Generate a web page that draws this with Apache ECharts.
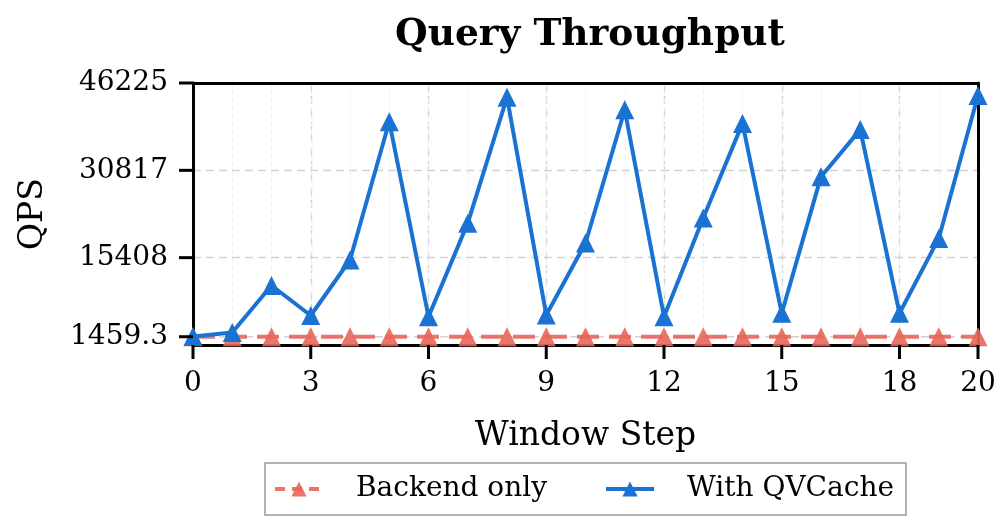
<!DOCTYPE html>
<html>
<head>
<meta charset="utf-8">
<script src="https://cdn.jsdelivr.net/npm/echarts@6/dist/echarts.min.js"></script>
<style>
  html, body { margin: 0; padding: 0; background: #fff; }
  #chart { width: 995px; height: 532px; }
</style>
</head>
<body>
<div id="chart"></div>
<script>
// window steps 0..20
var steps = ['0', '1', '2', '3', '4', '5', '6', '7', '8', '9', '10', '11', '12', '13', '14', '15', '16', '17', '18', '19', '20'];
var backendOnly = [1459.3, 1459.3, 1459.3, 1459.3, 1459.3, 1459.3, 1459.3, 1459.3, 1459.3, 1459.3, 1459.3,
                   1459.3, 1459.3, 1459.3, 1459.3, 1459.3, 1459.3, 1459.3, 1459.3, 1459.3, 1459.3];
var withCache = [1500, 2200, 10500, 5200, 15000, 39400, 5000, 21500, 43700, 5300, 18000,
                 41500, 5000, 22400, 39100, 5600, 29700, 38000, 5600, 18800, 44024];
var xTickSteps = [0, 3, 6, 9, 12, 15, 18, 20];
var yTicks = [1459.3, 15408.3, 30816.7, 46225];

var serif = 'DejaVu Serif';
var red = '#e8665a', blue = '#1a73d2';
var chart = echarts.init(document.getElementById('chart'), null, { renderer: 'canvas' });

function majorX(idx) { return xTickSteps.indexOf(idx) >= 0; }

var gridDash = { color: '#d2d2d2', type: [8, 5], width: 1.4 };
var hidden = { axisLine: { show: false }, axisTick: { show: false }, axisLabel: { show: false } };

chart.setOption({
  animation: false,
  title: {
    text: 'Query Throughput',
    left: 585, top: 11, textAlign: 'center',
    textStyle: { fontFamily: serif, fontWeight: 'bold', fontSize: 37.5, color: '#000' }
  },
  grid: { left: 193, right: 17, top: 83, bottom: 187, outerBoundsMode: 'none' },
  legend: {
    left: 265, top: 463,
    padding: [12, 12, 12, 8],
    borderColor: '#999', borderWidth: 1.5, borderRadius: 0,
    itemWidth: 48, itemHeight: 19, itemGap: 57,
    lineStyle: { width: 4 },
    textStyle: { fontFamily: serif, fontSize: 28, color: '#000', padding: [0, 0, 0, 28] },
    data: [
      { name: 'Backend only', lineStyle: { width: 4, type: [10, 7] } },
      { name: 'With QVCache', lineStyle: { width: 4 } }
    ]
  },
  xAxis: [{
    // main axis: labels, bottom spine (ticks drawn below from the axis scale)
    type: 'category', data: steps, boundaryGap: false, position: 'bottom',
    name: 'Window Step', nameLocation: 'middle', nameGap: 75,
    nameTextStyle: { fontFamily: serif, fontSize: 33, color: '#000' },
    axisLine: { show: true, onZero: false, lineStyle: { color: '#000', width: 3 } },
    axisTick: { show: false },
    axisLabel: { interval: majorX, fontFamily: serif, fontSize: 28, color: '#000', margin: 25 },
    splitLine: { show: false }
  }, Object.assign({
    // major vertical grid
    type: 'category', data: steps, boundaryGap: false, position: 'bottom',
    splitLine: { show: true, interval: majorX, lineStyle: gridDash }
  }, hidden), Object.assign({
    // minor vertical grid at every step
    type: 'category', data: steps, boundaryGap: false, position: 'bottom',
    splitLine: { show: true, interval: 0, lineStyle: { color: '#ededed', type: [4, 4], width: 1 } }
  }, hidden), {
    // top spine
    type: 'category', data: steps, boundaryGap: false, position: 'top',
    axisLine: { show: true, onZero: false, lineStyle: { color: '#000', width: 3 } },
    axisTick: { show: false }, axisLabel: { show: false }, splitLine: { show: false }
  }],
  yAxis: [{
    type: 'value', min: 0, max: 46225,
    name: 'QPS', nameLocation: 'middle', nameGap: 143, nameRotate: 90,
    nameTextStyle: { fontFamily: serif, fontSize: 33, color: '#000' },
    axisLine: { show: true, onZero: false, lineStyle: { color: '#000', width: 3 } },
    axisTick: { show: false },
    axisLabel: {
      customValues: yTicks, fontFamily: serif, fontSize: 28, color: '#000', margin: 25,
      formatter: function (v) { return v < 2000 ? v.toFixed(1) : String(Math.round(v)); }
    },
    splitLine: { show: false }
  }, Object.assign({
    // horizontal grid
    type: 'value', min: 0, max: 46225, interval: 46225 / 3, position: 'left',
    splitLine: { show: true, lineStyle: gridDash }
  }, hidden), {
    // right spine
    type: 'value', min: 0, max: 46225, position: 'right',
    axisLine: { show: true, onZero: false, lineStyle: { color: '#000', width: 3 } },
    axisTick: { show: false }, axisLabel: { show: false }, splitLine: { show: false }
  }],
  series: [{
    name: 'Backend only', type: 'line',
    data: backendOnly,
    symbol: 'triangle', symbolSize: 19,
    itemStyle: { color: red, opacity: 0.9 },
    lineStyle: { color: red, width: 3.8, type: [22, 10], opacity: 0.9 },
    clip: false
  }, {
    name: 'With QVCache', type: 'line',
    data: withCache,
    symbol: 'triangle', symbolSize: 19,
    itemStyle: { color: blue },
    lineStyle: { color: blue, width: 4 },
    clip: false
  }]
});

// outward tick marks + the grid line at the lowest tick, placed through the axis scales
var x0 = chart.convertToPixel({ xAxisIndex: 0 }, 0);
var x1 = chart.convertToPixel({ xAxisIndex: 0 }, steps.length - 1);
var yBase = chart.convertToPixel({ yAxisIndex: 0 }, 0);
var tickLen = 14;
var marks = [];
xTickSteps.forEach(function (s) {
  var px = chart.convertToPixel({ xAxisIndex: 0 }, s);
  marks.push({ type: 'line', silent: true, z: 10,
    shape: { x1: px, y1: yBase, x2: px, y2: yBase + tickLen },
    style: { stroke: '#000', lineWidth: 3 } });
});
yTicks.forEach(function (v) {
  var py = chart.convertToPixel({ yAxisIndex: 0 }, v);
  marks.push({ type: 'line', silent: true, z: 10,
    shape: { x1: x0 - tickLen, y1: py, x2: x0, y2: py },
    style: { stroke: '#000', lineWidth: 3 } });
});
var yLow = chart.convertToPixel({ yAxisIndex: 0 }, yTicks[0]);
marks.push({ type: 'line', silent: true, z: 1,
  shape: { x1: x0, y1: yLow, x2: x1, y2: yLow },
  style: { stroke: gridDash.color, lineWidth: gridDash.width, lineDash: gridDash.type } });
chart.setOption({ graphic: marks });
</script>
</body>
</html>
